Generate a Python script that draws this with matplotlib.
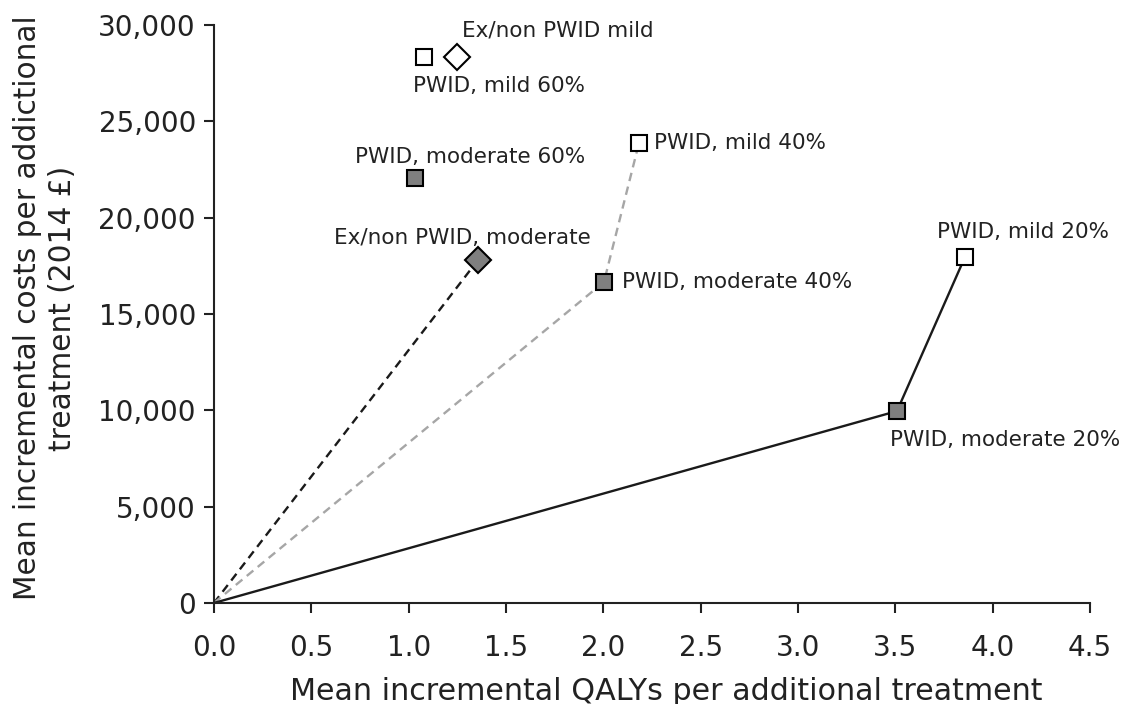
import matplotlib
matplotlib.use("Agg")
import matplotlib.pyplot as plt
from matplotlib.ticker import FuncFormatter

plt.rcParams["font.family"] = ["DejaVu Sans"]

# data
labels = ["PWID, mild 60%", "Ex/non PWID mild", "PWID, moderate 60%", "PWID, mild 40%",
          "Ex/non PWID, moderate", "PWID, moderate 40%", "PWID, mild 20%", "PWID, moderate 20%"]
qalys = [1.079, 1.248, 1.032, 2.183, 1.356, 2.003, 3.857, 3.508]
costs = [28350, 28350, 22050, 23870, 17800, 16660, 17950, 9960]
markers = ["s", "D", "s", "s", "D", "s", "s", "s"]
fills = ["white", "white", "#7f7f7f", "white", "#7f7f7f", "#7f7f7f", "white", "#7f7f7f"]
# label offsets (points) and alignment
offsets = [(-8, -21), (4, 19), (-43, 15), (11, 0), (-11, 16), (13, 0), (-20, 18), (-5, -21)]
aligns = ["left", "left", "left", "left", "center", "left", "left", "left"]

# lines from origin through points (index lists)
paths = [([4], "#1a1a1a", "--"), ([5, 3], "#a6a6a6", "--"), ([7, 6], "#1a1a1a", "-")]

fig = plt.figure(figsize=(11.32, 7.04), dpi=100)
ax = fig.add_axes([0.189, 0.1435, 0.774, 0.821])

for idx, col, ls in paths:
    xs = [0] + [qalys[i] for i in idx]
    ys = [0] + [costs[i] for i in idx]
    ax.plot(xs, ys, color=col, ls=ls, lw=1.7, dashes=(3.6, 2.4) if ls == "--" else (None, None),
            zorder=2)

for i in range(len(labels)):
    ax.plot(qalys[i], costs[i], marker=markers[i], ms=12 if markers[i] == "s" else 13,
            mfc=fills[i], mec="black", mew=1.5, ls="none", zorder=3)
    ax.annotate(labels[i], (qalys[i], costs[i]), xytext=offsets[i], textcoords="offset points",
                ha=aligns[i], va="center", fontsize=15.5, color="#222222")

ax.set_xlim(0, 4.5)
ax.set_ylim(0, 30000)
ax.set_xticks([0, 0.5, 1, 1.5, 2, 2.5, 3, 3.5, 4, 4.5])
ax.set_yticks(range(0, 30001, 5000))
ax.xaxis.set_major_formatter(FuncFormatter(lambda v, p: f"{v:.1f}"))
ax.yaxis.set_major_formatter(FuncFormatter(lambda v, p: f"{int(v):,}"))
ax.tick_params(direction="out", length=7, width=1.5, labelsize=20, colors="#222222")
ax.tick_params(axis="x", pad=15)
ax.tick_params(axis="y", pad=6)

for s in ["top", "right"]:
    ax.spines[s].set_visible(False)
for s in ["left", "bottom"]:
    ax.spines[s].set_linewidth(1.5)
    ax.spines[s].set_color("#222222")

fig.text(0.5885, 0.006, "Mean incremental QALYs per additional treatment", fontsize=21.7,
         color="#222222", ha="center", va="baseline")
fig.text(0.040, 0.5625, "Mean incremental costs per addictional\ntreatment (2014 £)", fontsize=21.3,
         color="#222222", ha="center", va="center", rotation=90, multialignment="center",
         linespacing=1.25)

fig.savefig("out.png", dpi=100)
